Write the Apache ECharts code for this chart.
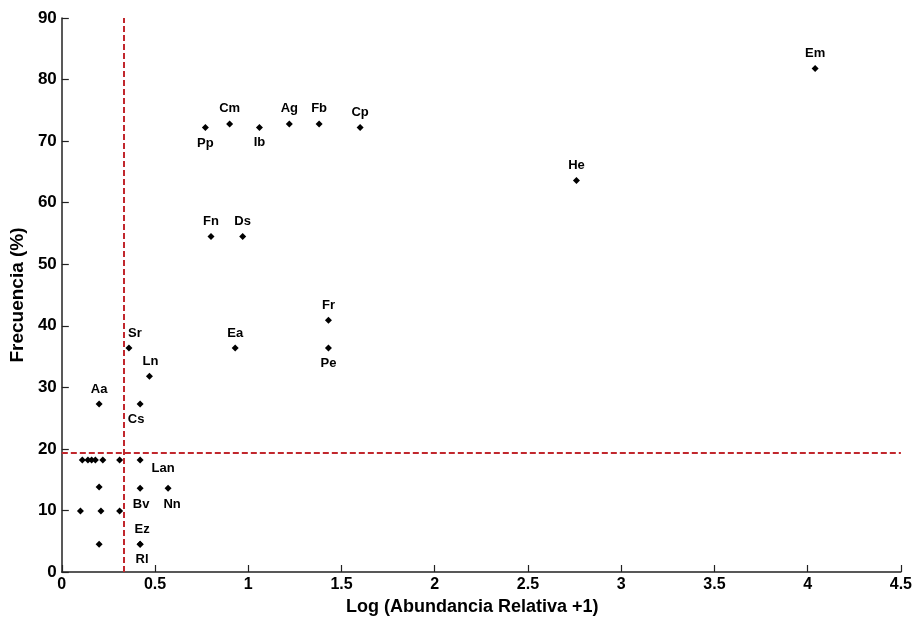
<!DOCTYPE html>
<html>
<head>
<meta charset="utf-8">
<script src="https://cdn.jsdelivr.net/npm/echarts@6/dist/echarts.min.js"></script>
<style>html,body{margin:0;padding:0;background:#fff;}#c{width:915px;height:621px;}</style>
</head>
<body>
<div id="c"></div>
<script>
// Labeled species
const names = ['Em','He','Cp','Fb','Ag','Ib','Cm','Pp','Fn','Ds','Fr','Pe','Ea','Sr','Ln','Aa','Cs','Lan','Bv','Nn','Ez','Rl'];
const xVals = [4.04,2.76,1.60,1.38,1.22,1.06,0.90,0.77,0.80,0.97,1.43,1.43,0.93,0.36,0.47,0.20,0.42,0.42,0.42,0.57,0.42,0.42];
const yVals = [81.8,63.6,72.2,72.8,72.8,72.2,72.8,72.2,54.5,54.5,40.9,36.4,36.4,36.4,31.8,27.3,27.3,18.2,13.6,13.6,4.5,4.5];
// Unlabeled species
const xUnl = [0.11,0.14,0.16,0.18,0.22,0.31,0.20,0.10,0.21,0.31,0.20];
const yUnl = [18.2,18.2,18.2,18.2,18.2,18.2,13.8,9.9,9.9,9.9,4.5];
// Thresholds (reference lines)
const xThreshold = 0.33;
const yThreshold = 19.4;
const xTicks = ['0','0.5','1','1.5','2','2.5','3','3.5','4','4.5'];
const yTicks = ['0','10','20','30','40','50','60','70','80','90'];

// label placement (style only)
const labelPlace = {
  Em:['top',[0,-1]], He:['top',[0,-1]], Cp:['top',[0,-1]], Fb:['top',[0,-1]], Ag:['top',[0,-1]],
  Ib:['bottom',[0,1]], Cm:['top',[0,-1]], Pp:['bottom',[0,2]], Fn:['top',[0,-1]], Ds:['top',[0,-1]],
  Fr:['top',[0,-1]], Pe:['bottom',[0,1]], Ea:['top',[0,-1]], Sr:['top',[6,-1]], Ln:['top',[1,-1]],
  Aa:['top',[0,-1]], Cs:['bottom',[-4,1]], Lan:['right',[4,8]], Bv:['bottom',[1,2]], Nn:['bottom',[4,2]],
  Ez:['top',[2,-1]], Rl:['bottom',[2,1]]
};

const labeled = names.map((n,i)=>({
  name:n, value:[xVals[i],yVals[i]],
  label:{show:true, position:labelPlace[n][0], offset:labelPlace[n][1]}
}));
const unl = xUnl.map((x,i)=>[x,yUnl[i]]);

const lineColor = '#c1272d';
const chart = echarts.init(document.getElementById('c'));
chart.setOption({
  animation:false,
  backgroundColor:'#fff',
  grid:{left:61,right:13,top:18,bottom:48,containLabel:false},
  xAxis:{
    type:'value', min:0, max:4.5, interval:0.5,
    name:'Log (Abundancia Relativa +1)', nameLocation:'middle', nameGap:26,
    nameTextStyle:{fontFamily:'Liberation Sans, Arial', fontWeight:'bold', fontSize:18, color:'#000', padding:[0,18,0,0]},
    axisLine:{show:true, onZero:false, lineStyle:{color:'#222', width:1.5}},
    axisTick:{show:true, inside:true, length:7, lineStyle:{color:'#222', width:1.2}},
    axisLabel:{formatter:(v)=>xTicks[Math.round(v*2)], fontFamily:'Liberation Sans, Arial', fontWeight:'bold', fontSize:16, color:'#000', margin:5},
    splitLine:{show:false}
  },
  yAxis:{
    type:'value', min:0, max:90, interval:10,
    name:'Frecuencia (%)', nameLocation:'middle', nameGap:27,
    nameTextStyle:{fontFamily:'Liberation Sans, Arial', fontWeight:'bold', fontSize:19, color:'#000'},
    axisLine:{show:true, onZero:false, lineStyle:{color:'#222', width:1.5}},
    axisTick:{show:true, inside:true, length:7, lineStyle:{color:'#222', width:1.2}},
    axisLabel:{formatter:(v)=>yTicks[Math.round(v/10)], fontFamily:'Liberation Sans, Arial', fontWeight:'bold', fontSize:17, color:'#000', margin:5},
    splitLine:{show:false}
  },
  series:[
    {
      type:'scatter', symbol:'diamond', symbolSize:7,
      itemStyle:{color:'#000', opacity:1},
      label:{show:true, formatter:'{b}', fontFamily:'Liberation Sans, Arial', fontWeight:'bold', fontSize:13, color:'#000', distance:4},
      data:labeled,
      markLine:{
        silent:true, symbol:['none','none'], label:{show:false},
        lineStyle:{color:lineColor, type:[6,3], width:2, opacity:1},
        data:[
          [{coord:[xThreshold,0]},{coord:[xThreshold,90]}],
          [{coord:[0,yThreshold]},{coord:[4.5,yThreshold]}]
        ]
      }
    },
    {
      type:'scatter', symbol:'diamond', symbolSize:7,
      itemStyle:{color:'#000', opacity:1},
      data:unl
    }
  ]
});
</script>
</body>
</html>
